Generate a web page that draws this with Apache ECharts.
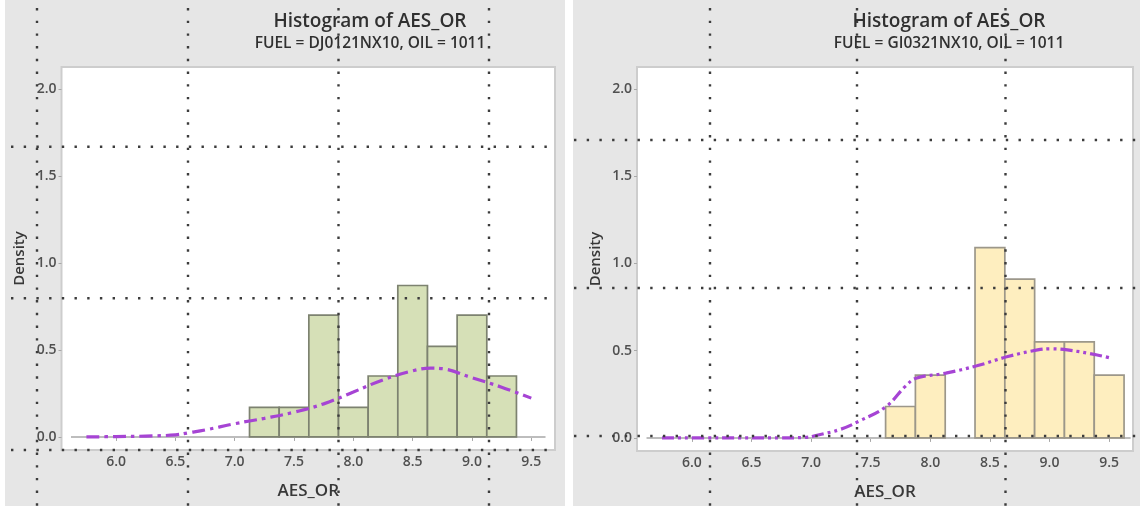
<!DOCTYPE html>
<html>
<head>
<meta charset="utf-8">
<title>Histogram of AES_OR</title>
<script src="https://cdn.jsdelivr.net/npm/echarts@6/dist/echarts.min.js"></script>
<style>
  html, body { margin: 0; padding: 0; background: #ffffff; }
  #chart { width: 1140px; height: 506px; }
</style>
</head>
<body>
<div id="chart"></div>
<script>
// ---- data ----
const titleText = 'Histogram of AES_OR';
const panelSubtitles = ['FUEL = DJ0121NX10, OIL = 1011', 'FUEL = GI0321NX10, OIL = 1011'];
const xTicks = [6.0, 6.5, 7.0, 7.5, 8.0, 8.5, 9.0, 9.5];
const yTicks = [0.0, 0.5, 1.0, 1.5, 2.0];
const binWidth = 0.25;

// DJ0121NX10: bins start at 7.125
const djBinStart = 7.125;
const djDensity = [0.17, 0.17, 0.70, 0.17, 0.35, 0.87, 0.52, 0.70, 0.35];
const djCurveX = [5.75, 6.0, 6.25, 6.5, 6.62, 6.75, 7.0, 7.25, 7.5, 7.75, 8.0, 8.25, 8.5, 8.65, 8.75, 9.0, 9.25, 9.5];
const djCurveY = [0.0, 0.002, 0.005, 0.012, 0.025, 0.04, 0.076, 0.107, 0.142, 0.19, 0.258, 0.328, 0.38, 0.395, 0.392, 0.34, 0.286, 0.223];

// GI0321NX10: bins start at 7.625
const giBinStart = 7.625;
const giDensity = [0.18, 0.36, 0.0, 1.09, 0.91, 0.55, 0.55, 0.36];
const giCurveX = [5.75, 6.25, 6.75, 6.95, 7.05, 7.25, 7.4, 7.63, 7.79, 7.88, 8.13, 8.39, 8.65, 8.9, 9.01, 9.15, 9.4, 9.52];
const giCurveY = [0.0, 0.0, 0.0, 0.003, 0.015, 0.05, 0.095, 0.18, 0.295, 0.342, 0.371, 0.413, 0.466, 0.504, 0.51, 0.504, 0.475, 0.456];

// extent of the zero reference line in each panel
const djBaseline = [5.62, 9.62];
const giBaseline = [5.62, 9.68];

const xMin = 5.54, xMax = 9.70;
const yMin = -0.075, yMax = 2.125;

// ---- helpers ----
function binRows(start, dens) {
  return dens.map((d, i) => [start + i * binWidth, start + (i + 1) * binWidth, d]);
}
function pairs(xs, ys) { return xs.map((x, i) => [x, ys[i]]); }

function barRenderer(fill, stroke) {
  return function (params, api) {
    const h = api.value(2);
    if (!(h > 0)) return null;
    const p0 = api.coord([api.value(0), h]);
    const p1 = api.coord([api.value(1), 0]);
    return {
      type: 'rect',
      shape: { x: p0[0], y: p0[1], width: p1[0] - p0[0], height: p1[1] - p0[1] },
      style: { fill: fill, stroke: stroke, lineWidth: 1.7 }
    };
  };
}

const labelFont = { color: '#505050', fontSize: 14, fontWeight: 600, fontFamily: 'Open Sans' };

function xAxisFor(gridIndex) {
  return {
    type: 'value', gridIndex: gridIndex, min: xMin, max: xMax,
    name: 'AES_OR', nameLocation: 'middle', nameGap: 33,
    nameTextStyle: { color: '#383838', fontSize: 17, fontWeight: 600, fontFamily: 'Open Sans' },
    axisLine: { show: false },
    axisTick: { show: true, length: 4, lineStyle: { color: '#a8a8a8' }, customValues: xTicks },
    axisLabel: Object.assign({ margin: 5, customValues: xTicks, formatter: v => v.toFixed(1) }, labelFont),
    splitLine: { show: false }
  };
}
function yAxisFor(gridIndex) {
  return {
    type: 'value', gridIndex: gridIndex, min: yMin, max: yMax,
    name: 'Density', nameLocation: 'middle', nameGap: 34, nameRotate: 90,
    nameTextStyle: { color: '#383838', fontSize: 15, fontWeight: 600, fontFamily: 'Open Sans' },
    axisLine: { show: false },
    axisTick: { show: true, length: 3, lineStyle: { color: '#a8a8a8' }, customValues: yTicks },
    axisLabel: Object.assign({ margin: 5, customValues: yTicks, formatter: v => v.toFixed(1) }, labelFont),
    splitLine: { show: false }
  };
}

// ---- decorative layout: panel backgrounds, headings, dotted guides ----
const graphics = [];
graphics.push({ type: 'rect', z: -10, shape: { x: 5, y: 0, width: 560, height: 506 }, style: { fill: '#e6e6e6' } });
graphics.push({ type: 'rect', z: -10, shape: { x: 573, y: 0, width: 567, height: 506 }, style: { fill: '#e6e6e6' } });

function heading(cx, sub) {
  graphics.push({ type: 'text', z: 5, x: cx, y: 22,
    style: { text: titleText, font: '600 19px "Open Sans"', fill: '#303030',
      align: 'center', verticalAlign: 'middle', textAlign: 'center', textVerticalAlign: 'middle' } });
  graphics.push({ type: 'text', z: 5, x: cx, y: 44,
    style: { text: sub, font: '600 15.5px "Open Sans"', fill: '#303030',
      align: 'center', verticalAlign: 'middle', textAlign: 'center', textVerticalAlign: 'middle' } });
}
heading(370, panelSubtitles[0]);
heading(949, panelSubtitles[1]);

const dotStyle = { stroke: '#3c3c3c', lineWidth: 2.4, lineDash: [2.4, 10.3] };
function vGuide(x) {
  graphics.push({ type: 'line', z: 100, shape: { x1: x, y1: 8, x2: x, y2: 506 }, style: dotStyle });
}
function hGuide(y, x1, x2) {
  graphics.push({ type: 'line', z: 100, shape: { x1: x1, y1: y, x2: x2, y2: y }, style: dotStyle });
}
[37, 188, 338.5, 489].forEach(vGuide);
[146.7, 298.3, 450].forEach(y => hGuide(y, 11, 556));
[710, 857, 1005.5].forEach(vGuide);
[140, 288, 436].forEach(y => hGuide(y, 574, 1140));

// ---- chart ----
const chart = echarts.init(document.getElementById('chart'), null, { renderer: 'canvas' });
chart.setOption({
  animation: false,
  backgroundColor: '#ffffff',
  grid: [
    { left: 61.5, top: 67, width: 493.5, height: 383, show: true, backgroundColor: '#ffffff', borderColor: '#cdcdcd', borderWidth: 2 },
    { left: 637, top: 67, width: 496, height: 384, show: true, backgroundColor: '#ffffff', borderColor: '#cdcdcd', borderWidth: 2 }
  ],
  xAxis: [xAxisFor(0), xAxisFor(1)],
  yAxis: [yAxisFor(0), yAxisFor(1)],
  graphic: { elements: graphics },
  series: [
    { type: 'line', xAxisIndex: 0, yAxisIndex: 0, data: djBaseline.map(x => [x, 0]), symbol: 'none',
      lineStyle: { color: '#bdbdbd', width: 2 }, z: 1 },
    { type: 'custom', xAxisIndex: 0, yAxisIndex: 0, data: binRows(djBinStart, djDensity),
      renderItem: barRenderer('#d6e0b7', '#7d8270'), z: 2 },
    { type: 'line', xAxisIndex: 0, yAxisIndex: 0, data: pairs(djCurveX, djCurveY), smooth: 0.4, symbol: 'none',
      lineStyle: { color: '#a644d4', width: 3.2, type: [13, 5, 3.5, 5] }, z: 3 },

    { type: 'line', xAxisIndex: 1, yAxisIndex: 1, data: giBaseline.map(x => [x, 0]), symbol: 'none',
      lineStyle: { color: '#bdbdbd', width: 2 }, z: 1 },
    { type: 'custom', xAxisIndex: 1, yAxisIndex: 1, data: binRows(giBinStart, giDensity),
      renderItem: barRenderer('#feeebf', '#9c978a'), z: 2 },
    { type: 'line', xAxisIndex: 1, yAxisIndex: 1, data: pairs(giCurveX, giCurveY), smooth: 0.4, symbol: 'none',
      lineStyle: { color: '#a644d4', width: 3.2, type: [12, 4, 3, 4, 3, 4] }, z: 3 }
  ]
});
</script>
</body>
</html>
